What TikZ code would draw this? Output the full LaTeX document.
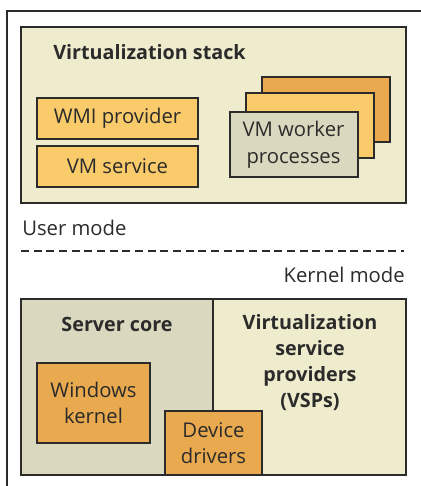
\documentclass[tikz,border=0pt]{standalone}
\usepackage{fontspec}
\setmainfont{Open Sans}
\usepackage{tikz}
\usetikzlibrary{positioning,calc}

\definecolor{cream}{HTML}{EFEBCD}
\definecolor{lorange}{HTML}{F9CB6B}
\definecolor{dorange}{HTML}{E9A94F}
\definecolor{greygreen}{HTML}{DAD9BF}
\definecolor{edge}{HTML}{2B2B2B}

\tikzset{
  blk/.style={draw=edge, line width=1.5pt, inner sep=0pt, align=center,
    font=\fontsize{15.2}{20}\selectfont, text=edge},
  boxsize/.style 2 args={minimum width=#1*0.75pt, minimum height=#2*0.75pt},
  heading/.style={font=\fontsize{14.8}{19.5}\selectfont\bfseries, text=edge, align=center, inner sep=0pt},
  plain/.style={font=\fontsize{15.2}{20}\selectfont, text=edge, inner sep=0pt}
}

\begin{document}
\begin{tikzpicture}[x=0.75pt, y=-0.75pt]
    \useasboundingbox (0,0) rectangle (421,486);
    \fill[white] (0,0) rectangle (421,486);
    \draw[edge, line width=1.5pt] (7,500) -- (7,11) -- (440,11);

    \node[blk, fill=cream, boxsize={385}{176}] (stack) at (213.5,115) {};
    \node[heading, anchor=west] (stacktitle) at (53,52) {Virtualization stack};
    \node[blk, fill=lorange, boxsize={161}{41}] (wmi) at (117.5,118.5) {WMI provider};
    \node[blk, fill=lorange, boxsize={161}{41}] (vmsvc) at (117.5,166.5) {VM service};
    \node[blk, fill=dorange, boxsize={128}{65}] (wp3) at (326,109.5) {};
    \node[blk, fill=lorange, boxsize={128}{65}] (wp2) at (310,125) {};
    \node[blk, fill=greygreen, boxsize={128}{65}] (wp1) at (293.5,144.5) {VM worker\\processes};

    \node[plain, anchor=west] (user) at (22,228) {User mode};
    \coordinate (dl) at (21,251);
    \coordinate (dr) at (404,251);
    \draw[edge, line width=1.3pt, dash pattern=on 6pt off 3.5pt] (dl) -- (dr);
    \node[plain, anchor=east] (kernel) at (405,275) {Kernel mode};

    \node[blk, fill=greygreen, boxsize={192}{176}] (core) at (117,387) {};
    \node[blk, fill=cream, boxsize={193}{176}] (vsp) at (309.5,387) {};
    \node[heading] (coretitle) at (117,324) {Server core};
    \node[heading] (vsptitle) at (310,363) {Virtualization\\service\\providers\\(VSPs)};
    \node[blk, fill=dorange, boxsize={113}{80}] (winkernel) at (93.5,403) {Windows\\kernel};
    \node[blk, fill=dorange, boxsize={97}{64}] (drivers) at (213.5,443) {Device\\drivers};
\end{tikzpicture}
\end{document}
